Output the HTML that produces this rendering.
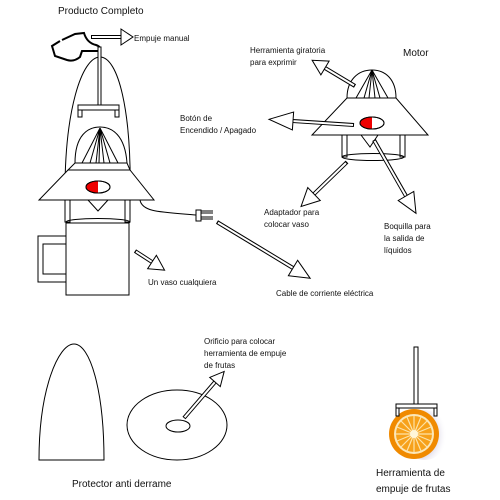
<!DOCTYPE html>
<html><head><meta charset="utf-8"><style>
html,body{margin:0;padding:0;background:#fff;}
svg{display:block;}
text{font-family:"Liberation Sans",sans-serif;fill:#111;}
</style></head><body>
<svg width="500" height="500" viewBox="0 0 500 500" xmlns="http://www.w3.org/2000/svg">
<defs>
<radialGradient id="sh" cx="0.3" cy="0.5" r="0.7"><stop offset="0.5" stop-color="#b9b0cf"/><stop offset="1" stop-color="#fff" stop-opacity="0"/></radialGradient>
</defs>
<g fill="none" stroke="#000" stroke-width="1">
<!-- LEFT PRODUCT -->
<text x="58" y="14" font-size="10" stroke="none">Producto Completo</text>
<!-- hand -->
<path d="M62,40 L75,34 L84,33 Q87,43 96,45 Q102,47 99,51 L82,51 L80,57 Q74,62 67,60 L55,56 L52,46 L60,41" stroke-width="2"/>
<!-- dome protector -->
<path d="M65,200 C64,110 82,57 100,57 C118,57 132,110 130,200"/>
<!-- rod -->
<rect x="98" y="47" width="3" height="58" fill="#fff"/>
<rect x="78" y="105" width="41" height="5" fill="#fff"/>
<rect x="78" y="110" width="4" height="7" fill="#fff"/>
<rect x="115" y="110" width="4" height="7" fill="#fff"/>
<!-- juicer head -->
<path d="M75,163 C75,135 88,127 100,127 C112,127 125,135 127,163" fill="#fff"/>
<path d="M100,128 L82,163 M100,128 L90,163 M100,128 L96,163 M100,128 L99,163 M100,128 L104,163 M100,128 L110,163 M100,128 L118,163"/>
<path d="M75,163 L127,163 L130,170 L68,170 Z" fill="#fff"/>
<polygon points="68,170 130,170 154,200 39,200" fill="#fff"/>
<ellipse cx="98" cy="187" rx="12" ry="6" fill="#fff"/>
<path d="M98,181 A12,6 0 0 0 98,193 Z" fill="#e00" stroke="none"/>
<ellipse cx="98" cy="187" rx="12" ry="6"/>
<rect x="65" y="200" width="5" height="22"/>
<rect x="125" y="200" width="5" height="22"/>
<path d="M88,200 L98,211 L108,200"/>
<ellipse cx="98" cy="222" rx="32" ry="3.5"/>
<rect x="66" y="223" width="63" height="72" fill="#fff"/>
<rect x="38" y="236" width="28" height="46" fill="#fff"/>
<rect x="43" y="244" width="23" height="30"/>
<!-- cable -->
<path d="M140,200 C142,212 160,212 196,215"/>
<rect x="196" y="210" width="5" height="11" fill="#fff"/>
<path d="M201,211 L213,211 M201,213 L213,213 M201,217 L213,217 M201,219 L213,219"/>
<!-- RIGHT MOTOR -->
<path d="M347,98 C347,80 358,70 372,70 C386,70 396,80 396,98" fill="#fff"/>
<path d="M372,70 L356,98 M372,70 L364,98 M372,70 L369,98 M372,70 L375,98 M372,70 L380,98 M372,70 L388,98"/>
<polygon points="347,98 396,98 428,135 312,135" fill="#fff"/>
<ellipse cx="372" cy="123" rx="12" ry="6" fill="#fff"/>
<path d="M372,117 A12,6 0 0 0 372,129 Z" fill="#e00" stroke="none"/>
<ellipse cx="372" cy="123" rx="12" ry="6"/>
<rect x="342" y="135" width="5" height="22"/>
<rect x="400" y="135" width="5" height="22"/>
<path d="M361,135 L370,147 L378,135"/>
<ellipse cx="373" cy="157" rx="31" ry="3.5"/>
<!-- BOTTOM -->
<path d="M39,460 C39,390 58,344 74,344 C90,344 104,390 104,460 Z"/>
<ellipse cx="177" cy="425" rx="50" ry="35"/>
<ellipse cx="178" cy="426" rx="12" ry="6"/>
<rect x="414" y="347" width="4" height="58" fill="#fff"/>
</g>
<!-- orange -->
<ellipse cx="425" cy="435" rx="22" ry="25" fill="url(#sh)"/>
<circle cx="414" cy="434" r="25" fill="#f08a00"/>
<circle cx="414" cy="434" r="20" fill="#fbe7b8"/>
<circle cx="414" cy="434" r="18" fill="#f7a11a"/>
<g stroke="#fde3a8" stroke-width="1.2">
<path d="M414,416 L414,452 M396,434 L432,434 M401,421 L427,447 M427,421 L401,447 M407,417 L421,451 M421,417 L407,451 M397,427 L431,441 M397,441 L431,427"/>
</g>
<circle cx="414" cy="434" r="4" fill="#fff6da"/>
<g fill="#fff" stroke="#000">
<rect x="396" y="404" width="41" height="4"/>
<rect x="396" y="408" width="3" height="8"/>
<rect x="434" y="408" width="3" height="8"/>
</g>
<!-- ARROWS -->
<g stroke="#000" stroke-width="4" fill="none">
<line x1="91" y1="37" x2="121" y2="37"/>
<line x1="217" y1="222" x2="293" y2="268"/>
<line x1="135" y1="251" x2="152" y2="262"/>
<line x1="355" y1="86" x2="325" y2="68"/>
<line x1="354" y1="125" x2="293" y2="121"/>
<line x1="347" y1="162" x2="314" y2="194"/>
<line x1="374" y1="140" x2="406" y2="196"/>
<line x1="184" y1="418" x2="215" y2="382"/>
</g>
<g stroke="#fff" stroke-width="2" fill="none">
<line x1="92" y1="37" x2="122" y2="37"/>
<line x1="218" y1="222.6" x2="294" y2="268.6"/>
<line x1="136" y1="251.6" x2="153" y2="262.6"/>
<line x1="354" y1="85.4" x2="324" y2="67.4"/>
<line x1="353" y1="125" x2="292" y2="121"/>
<line x1="346" y1="163" x2="313" y2="195"/>
<line x1="374.5" y1="141" x2="406.5" y2="197"/>
<line x1="184.6" y1="417.3" x2="215.6" y2="381.3"/>
</g>
<g fill="#fff" stroke="#000" stroke-width="1">
<polygon transform="translate(121,37) rotate(0)" points="0,-8 12,0 0,8"/>
<polygon transform="translate(293,268) rotate(31)" points="0,-9 20,0 0,9"/>
<polygon transform="translate(152,262) rotate(33)" points="0,-8 15,0 0,8"/>
<polygon transform="translate(325,68) rotate(211)" points="0,-8 15,0 0,8"/>
<polygon transform="translate(293,121) rotate(184)" points="0,-9 24,0 0,9"/>
<polygon transform="translate(314,194) rotate(136)" points="0,-9 18,0 0,9"/>
<polygon transform="translate(406,196) rotate(60)" points="0,-9 20,0 0,9"/>
<polygon transform="translate(215,382) rotate(-49)" points="0,-7 14,0 0,7"/>
</g>
<!-- LABELS -->
<g font-size="8">
<text x="134" y="41">Empuje manual</text>
<text x="148" y="285">Un vaso cualquiera</text>
<text x="276" y="296">Cable de corriente eléctrica</text>
<text x="250" y="53">Herramienta giratoria</text>
<text x="250" y="65">para exprimir</text>
<text x="180" y="121">Botón de</text>
<text x="180" y="133">Encendido / Apagado</text>
<text x="264" y="215">Adaptador para</text>
<text x="264" y="227">colocar vaso</text>
<text x="384" y="229">Boquilla para</text>
<text x="384" y="241">la salida de</text>
<text x="384" y="253">líquidos</text>
<text x="204" y="344">Orificio para colocar</text>
<text x="204" y="356">herramienta de empuje</text>
<text x="204" y="368">de frutas</text>
</g>
<text x="403" y="56" font-size="10">Motor</text>
<text x="72" y="487" font-size="10">Protector anti derrame</text>
<text x="376" y="476" font-size="10">Herramienta de</text>
<text x="376" y="492" font-size="10">empuje de frutas</text>
</svg>
</body></html>
